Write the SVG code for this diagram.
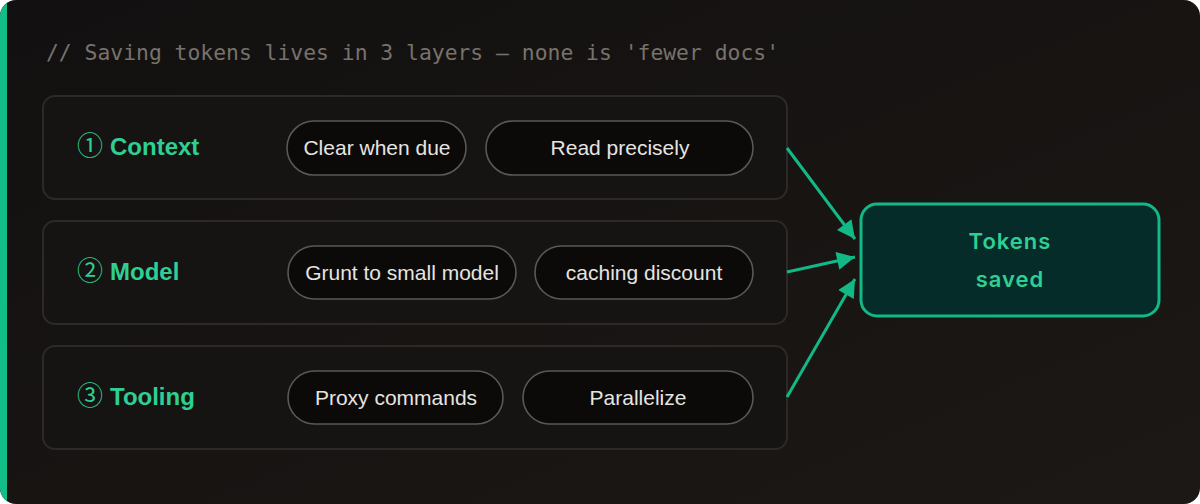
<svg xmlns="http://www.w3.org/2000/svg" width="1200" height="504" viewBox="0 0 1200 504">
  <defs>
    <linearGradient id="bg" x1="0" y1="0" x2="1" y2="1">
      <stop offset="0" stop-color="#121010"/>
      <stop offset="1" stop-color="#1c1815"/>
    </linearGradient>
    <clipPath id="card">
      <rect x="0" y="0" width="1200" height="504" rx="16" ry="16"/>
    </clipPath>
    <marker id="ah" viewBox="0 0 10 10" refX="10" refY="5" markerWidth="7" markerHeight="6" orient="auto" markerUnits="strokeWidth">
      <path d="M0,0 L10,5 L0,10 z" fill="#12b886"/>
    </marker>
    <style>
      .row { fill: #151413; stroke: #2c2a28; stroke-width: 2; }
      .pill { fill: #0b0a09; stroke: #5b5854; stroke-width: 1.6; }
      .pt { font-family: "Liberation Sans", Arial, sans-serif; font-size: 21px; fill: #e6e4e0; text-anchor: middle; }
      .lbl { font-family: "Liberation Sans", Arial, sans-serif; font-size: 24px; font-weight: 700; fill: #2fcf94; }
      .circ { font-family: "Noto Sans CJK SC", "DejaVu Sans", sans-serif; font-size: 26px; font-weight: 400; }
      .hdr { font-family: "DejaVu Sans Mono", "Liberation Mono", monospace; font-size: 21px; fill: #77726c; }
      .conn { stroke: #12b886; stroke-width: 3; fill: none; marker-end: url(#ah); }
      .tk { font-family: Inter, "Liberation Sans", sans-serif; font-size: 22px; font-weight: 600; fill: #2fcf94; text-anchor: middle; letter-spacing: 1px; }
    </style>
  </defs>

  <rect x="0" y="0" width="1200" height="504" fill="#ffffff"/>
  <g clip-path="url(#card)">
    <rect x="0" y="0" width="1200" height="504" fill="url(#bg)"/>
    <rect x="0" y="0" width="7" height="504" fill="#12bd88"/>
  </g>

  <text class="hdr" x="46" y="60" textLength="733" lengthAdjust="spacingAndGlyphs">// Saving tokens lives in 3 layers — none is 'fewer docs'</text>

  <g id="row-context">
    <rect class="row" x="43" y="96" width="744" height="103" rx="12"/>
    <text class="lbl" x="77" y="155"><tspan class="circ">①</tspan><tspan x="110">Context</tspan></text>
    <rect class="pill" x="287" y="121" width="179" height="54" rx="27"/>
    <text class="pt" x="377" y="155">Clear when due</text>
    <rect class="pill" x="486" y="121" width="267" height="54" rx="27"/>
    <text class="pt" x="620" y="155">Read precisely</text>
  </g>

  <g id="row-model">
    <rect class="row" x="43" y="221" width="744" height="103" rx="12"/>
    <text class="lbl" x="77" y="280"><tspan class="circ">②</tspan><tspan x="110">Model</tspan></text>
    <rect class="pill" x="288" y="246" width="228" height="53" rx="26.5"/>
    <text class="pt" x="402" y="280">Grunt to small model</text>
    <rect class="pill" x="535" y="246" width="218" height="53" rx="26.5"/>
    <text class="pt" x="644" y="280">caching discount</text>
  </g>

  <g id="row-tooling">
    <rect class="row" x="43" y="346" width="744" height="103" rx="12"/>
    <text class="lbl" x="77" y="405"><tspan class="circ">③</tspan><tspan x="110">Tooling</tspan></text>
    <rect class="pill" x="288" y="371" width="215" height="53" rx="26.5"/>
    <text class="pt" x="396" y="405">Proxy commands</text>
    <rect class="pill" x="523" y="371" width="230" height="53" rx="26.5"/>
    <text class="pt" x="638" y="405">Parallelize</text>
  </g>

  <g id="connectors">
    <line class="conn" x1="787" y1="148" x2="855" y2="239"/>
    <line class="conn" x1="787" y1="272" x2="855" y2="257"/>
    <line class="conn" x1="787" y1="397" x2="855" y2="279"/>
  </g>

  <g id="tokens-saved">
    <rect x="861" y="204" width="298" height="112" rx="16" fill="#052c28" stroke="#12b886" stroke-width="3"/>
    <text class="tk" x="1010" y="249">Tokens</text>
    <text class="tk" x="1010" y="287">saved</text>
  </g>
</svg>
